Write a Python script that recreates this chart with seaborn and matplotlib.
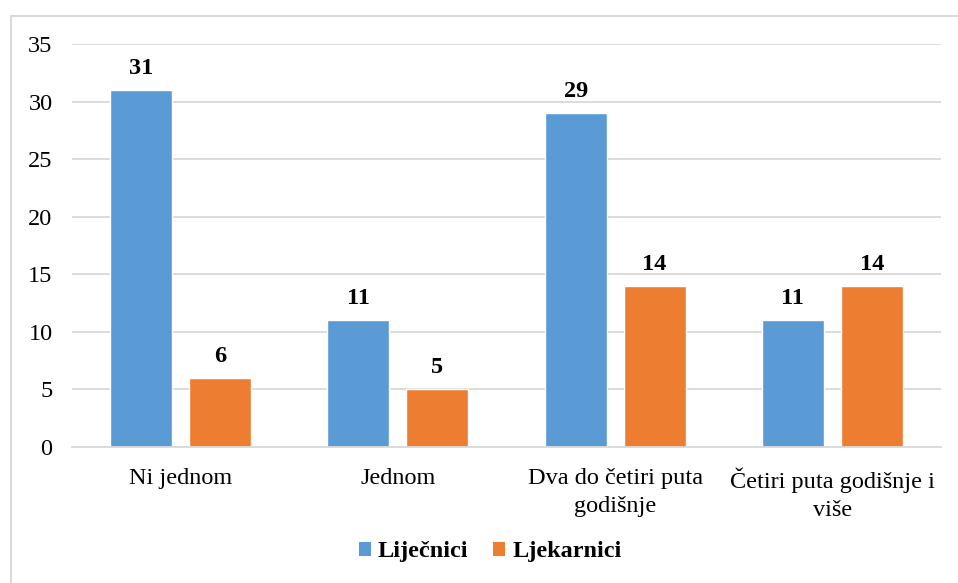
import numpy as np
import pandas as pd
import matplotlib
matplotlib.use("Agg")
import matplotlib.pyplot as plt
import seaborn as sns
from matplotlib.patches import Patch
from matplotlib.lines import Line2D

categories = ["Ni jednom", "Jednom", "Dva do četiri puta\ngodišnje", "Četiri puta godišnje i\nviše"]
series_names = ["Liječnici", "Ljekarnici"]
lijecnici = [31, 11, 29, 11]
ljekarnici = [6, 5, 14, 14]
colors = ["#5B9BD5", "#ED7D31"]

df = pd.DataFrame({
    "kategorija": categories * 2,
    "skupina": [series_names[0]] * 4 + [series_names[1]] * 4,
    "broj": lijecnici + ljekarnici,
})

sns.set_style("white")
plt.rcParams["font.family"] = ["Liberation Serif", "DejaVu Serif"]
plt.rcParams["text.color"] = "black"
plt.rcParams["xtick.color"] = "black"
plt.rcParams["ytick.color"] = "black"

W, H = 958, 583
fig = plt.figure(figsize=(W / 100, H / 100), dpi=100)
ax = fig.add_axes([72 / W, 1 - 446.7 / H, (941 - 72) / W, (446.7 - 44) / H])

sns.barplot(data=df, x="kategorija", y="broj", hue="skupina", palette=colors,
            width=0.727, gap=0.215, ax=ax, legend=False, saturation=1)

ax.set_ylim(0, 35)
ax.set_xlim(-0.5, 3.5)
ax.set_yticks(range(0, 36, 5))
ax.yaxis.grid(True, color="#D9D9D9", linewidth=1.3)
ax.set_axisbelow(True)
for s in ["top", "right", "left"]:
    ax.spines[s].set_visible(False)
ax.spines["bottom"].set_color("#D9D9D9")
ax.spines["bottom"].set_linewidth(1.3)
ax.tick_params(axis="y", length=0, pad=14, labelsize=17.5, labelcolor="black")
ax.tick_params(axis="x", length=0, pad=15, labelsize=17.5, labelcolor="black")
for lbl in ax.get_xticklabels():
    lbl.set_linespacing(1.45)
ax.set_xlabel("")
ax.set_ylabel("")

for cont in ax.containers:
    ax.bar_label(cont, padding=8, fontsize=17.5, fontweight="bold", color="black")

# chart area border (left and top only visible in crop)
fig.add_artist(Line2D([10.5 / W, 10.5 / W], [0, 1 - 15.5 / H], color="#D9D9D9", lw=1.5, transform=fig.transFigure))
fig.add_artist(Line2D([10.5 / W, 1], [1 - 15.5 / H, 1 - 15.5 / H], color="#D9D9D9", lw=1.5, transform=fig.transFigure))

handles = [Patch(facecolor=c, edgecolor="none") for c in colors]
fig.legend(handles, series_names, loc="center", bbox_to_anchor=(490 / W, 1 - 552 / H),
           ncol=2, frameon=False, prop={"size": 17.5, "weight": "bold"},
           handlelength=0.5, handleheight=0.5, handletextpad=0.3, columnspacing=1.0,
           labelcolor="black")

fig.savefig("out.png", dpi=100)
